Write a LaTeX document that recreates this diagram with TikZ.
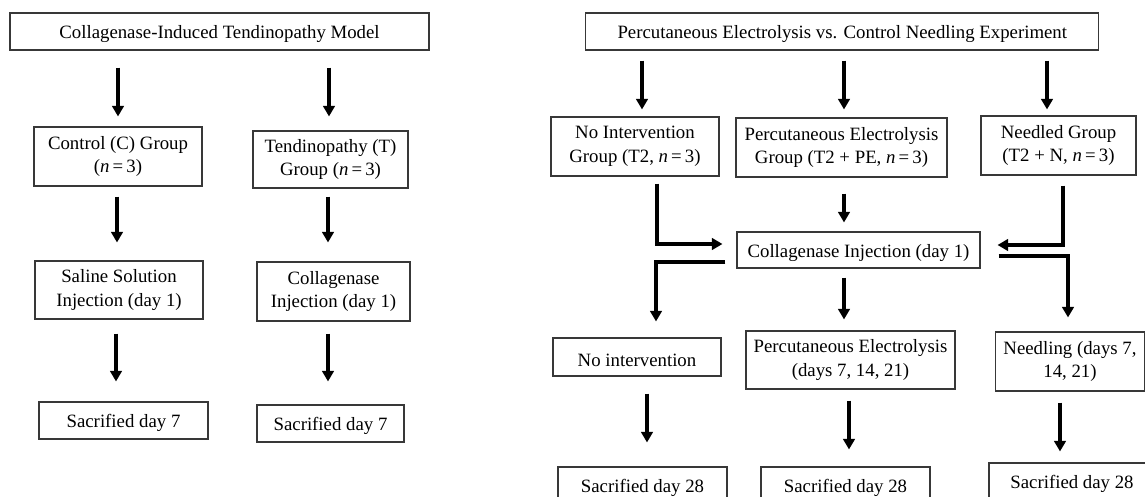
\documentclass[tikz,border=0pt]{standalone}
\usepackage{fontspec}
\setmainfont{Liberation Serif}
\usetikzlibrary{arrows.meta}
\begin{document}
\begin{tikzpicture}[x=1pt,y=-1pt,
  box/.style={draw=black!78, line width=1.1pt, align=center, inner sep=0pt,
    font=\fontsize{18.8}{23.5}\selectfont,
    execute at begin node={\rule{0pt}{19pt}}},
  arr/.style={line width=3.2pt, -{Triangle[width=11.5pt,length=10.5pt]}},
]
\useasboundingbox (0,0) rectangle (1145,497);
\clip (0,0) rectangle (1145,497);
\fill[white] (0,0) rectangle (1145,497);

% ---- left diagram ----
\node[box, minimum width=419pt, minimum height=37pt] (t1) at (219.5,31.5) {Collagenase-Induced Tendinopathy Model};
\node[box, minimum width=168pt, minimum height=59pt] (ctrl) at (118,156.5) {Control (C) Group\\(\textit{n}\,=\,3)};
\node[box, minimum width=155pt, minimum height=57pt] (tend) at (330.5,159.5) {Tendinopathy (T)\\Group (\textit{n}\,=\,3)};
\node[box, minimum width=168pt, minimum height=58pt] (sal) at (119,290) {Saline Solution\\Injection (day 1)};
\node[box, minimum width=153pt, minimum height=59pt] (col) at (333.5,291.5) {Collagenase\\Injection (day 1)};
\node[box, minimum width=169pt, minimum height=37pt] (sacA) at (123.5,420.5) {Sacrified day 7};
\node[box, minimum width=147pt, minimum height=37pt] (sacB) at (330.5,423.5) {Sacrified day 7};

\draw[arr, shorten <=17pt, shorten >=10pt] (t1.south -| 118,0) -- (ctrl.north -| 118,0);
\draw[arr, shorten <=17pt, shorten >=14pt] (t1.south -| 329,0) -- (tend.north -| 329,0);
\draw[arr, shorten <=10pt, shorten >=18pt] (ctrl.south -| 117,0) -- (sal.north -| 117,0);
\draw[arr, shorten <=8pt, shorten >=19pt] (tend.south -| 328,0) -- (col.north -| 328,0);
\draw[arr, shorten <=14pt, shorten >=20pt] (sal.south -| 116,0) -- (sacA.north -| 116,0);
\draw[arr, shorten <=12pt, shorten >=23pt] (col.south -| 328,0) -- (sacB.north -| 328,0);

% ---- right diagram ----
\node[box, minimum width=513pt, minimum height=37pt] (t2) at (842.3,31.5) {Percutaneous Electrolysis vs. Control Needling Experiment};
\node[box, minimum width=168pt, minimum height=59pt] (noi) at (635,146.5) {No Intervention\\Group (T2, \textit{n}\,=\,3)};
\node[box, minimum width=211pt, minimum height=59pt] (peg) at (841.5,147.5) {Percutaneous Electrolysis\\Group (T2 + PE, \textit{n}\,=\,3)};
\node[box, minimum width=155pt, minimum height=59pt] (ndg) at (1058.5,145.5) {Needled Group\\(T2 + N, \textit{n}\,=\,3)};
\node[box, minimum width=243pt, minimum height=36pt] (inj) at (858.5,250) {Collagenase Injection (day 1)};
\node[box, minimum width=168pt, minimum height=38pt] (noi2) at (637,357) {No intervention};
\node[box, minimum width=209pt, minimum height=58pt] (ped) at (850.5,360) {Percutaneous Electrolysis\\(days 7, 14, 21)};
\node[box, minimum width=149pt, minimum height=59pt] (ndl) at (1070,361.5) {Needling (days 7,\\14, 21)};
\node[box, minimum width=169pt, minimum height=37pt] (sacC) at (642.5,485.5) {Sacrified day 28};
\node[box, minimum width=169pt, minimum height=37pt] (sacD) at (845.5,485.5) {Sacrified day 28};
\node[box, minimum width=166pt, minimum height=37pt] (sacE) at (1072,481.5) {Sacrified day 28};

\draw[arr, shorten <=10pt, shorten >=7pt] (t2.south -| 642,0) -- (noi.north -| 642,0);
\draw[arr, shorten <=10pt, shorten >=8pt] (t2.south -| 844,0) -- (peg.north -| 844,0);
\draw[arr, shorten <=10pt, shorten >=6pt] (t2.south -| 1047,0) -- (ndg.north -| 1047,0);

\draw[arr, shorten <=7pt, shorten >=14pt] (noi.south -| 657,0) |- ([yshift=6pt]inj.west);
\draw[arr, shorten <=16pt, shorten >=9pt] (peg.south -| 844,0) -- (inj.north -| 844,0);
\draw[arr, shorten <=10pt, shorten >=17pt] (ndg.south -| 1063,0) |- ([yshift=5pt]inj.east);

\draw[arr, shorten <=11pt, shorten >=16pt] ([yshift=-12pt]inj.west) -| (noi2.north -| 656,0);
\draw[arr, shorten <=9pt, shorten >=11pt] (inj.south -| 844,0) -- (ped.north -| 844,0);
\draw[arr, shorten <=18pt, shorten >=14pt] ([yshift=-6pt]inj.east) -| (ndl.north -| 1068,0);

\draw[arr, shorten <=17pt, shorten >=24pt] (noi2.south -| 647,0) -- (sacC.north -| 647,0);
\draw[arr, shorten <=11pt, shorten >=17pt] (ped.south -| 849,0) -- (sacD.north -| 849,0);
\draw[arr, shorten <=11pt, shorten >=11pt] (ndl.south -| 1060,0) -- (sacE.north -| 1060,0);
\end{tikzpicture}
\end{document}
